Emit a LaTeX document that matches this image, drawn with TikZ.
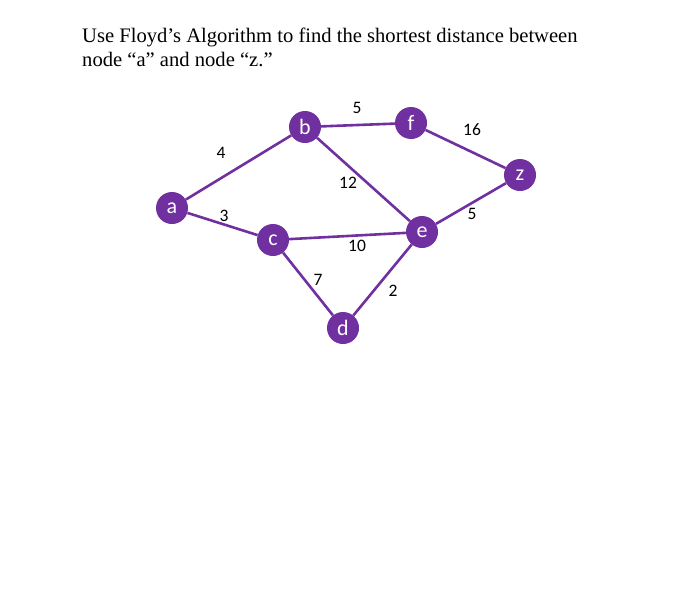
\documentclass[tikz,border=0pt]{standalone}
\usepackage{fontspec}
\setmainfont{Liberation Serif}
\newfontfamily\labelfont{Carlito}
\usepackage{tikz}
\definecolor{vpurple}{HTML}{7030A0}
\tikzset{
  vertex/.style={circle,fill=vpurple,inner sep=0pt,minimum size=32pt,text=white,font=\labelfont\fontsize{22}{22}\selectfont},
  edge/.style={vpurple,line width=2.6pt},
  weight/.style={font=\labelfont\fontsize{17.5}{17.5}\selectfont}
}
\begin{document}
\begin{tikzpicture}[x=1pt,y=-1pt]
\useasboundingbox (0,0) rectangle (700,605);
\node[anchor=base west,align=left,inner sep=0pt,font=\fontsize{20.6}{24}\selectfont] (title) at (82,66)
  {Use Floyd’s Algorithm to find the shortest distance between\\node “a” and node “z.”};
\node[vertex] (a) at (172,208) {a};
\node[vertex] (b) at (305,127) {b};
\node[vertex] (f) at (411,123) {f};
\node[vertex] (z) at (520,175) {z};
\node[vertex] (e) at (422,232) {e};
\node[vertex] (c) at (273,240) {c};
\node[vertex] (d) at (343,328) {d};
\draw[edge] (a) -- (b);
\draw[edge] (a) -- (c);
\draw[edge] (b) -- (f);
\draw[edge] (b) -- (e);
\draw[edge] (f) -- (z);
\draw[edge] (z) -- (e);
\draw[edge] (c) -- (e);
\draw[edge] (c) -- (d);
\draw[edge] (d) -- (e);
\node[weight] (wab) at (221,153) {4};
\node[weight] (wac) at (224,216) {3};
\node[weight] (wbf) at (357,108) {5};
\node[weight] (wfz) at (472,130) {16};
\node[weight] (wbe) at (348,183) {12};
\node[weight] (wez) at (472,214) {5};
\node[weight] (wce) at (357,246) {10};
\node[weight] (wcd) at (318,280) {7};
\node[weight] (wde) at (393,291) {2};
\end{tikzpicture}
\end{document}
